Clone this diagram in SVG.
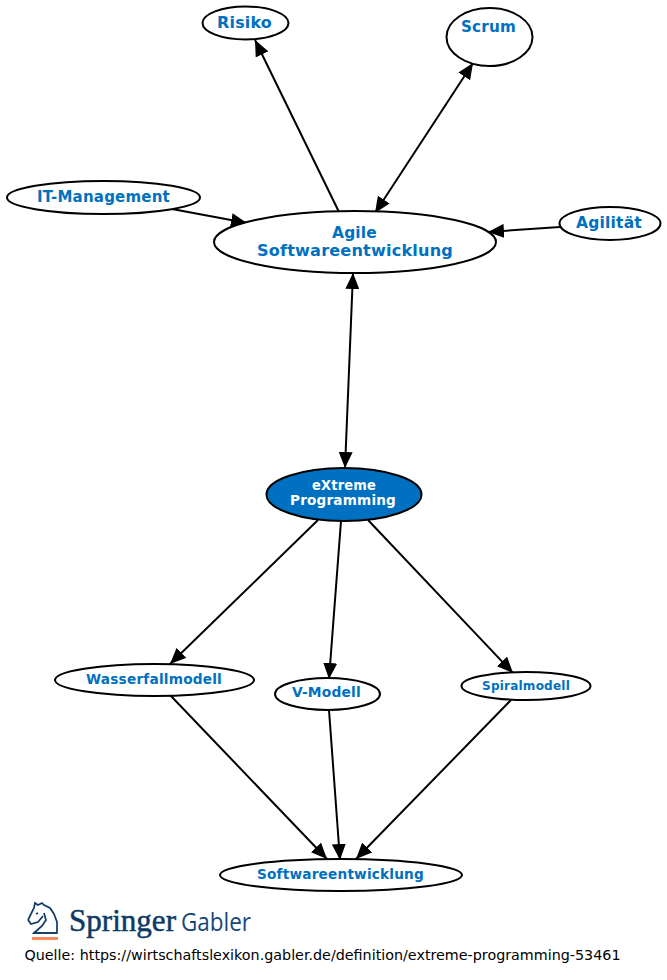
<svg xmlns="http://www.w3.org/2000/svg" width="667" height="980" viewBox="0 0 667 980">
<style>
.n{fill:#fff;stroke:#000;stroke-width:2}
.t{font-family:"DejaVu Sans",sans-serif;font-weight:bold;fill:#0070c0;text-anchor:middle;letter-spacing:.2px}
.c{fill:none;stroke:#000;stroke-width:2}
.logo{fill:none;stroke:#0d3a66;stroke-width:1.700}
</style>
<defs>
<marker id="a" markerUnits="userSpaceOnUse" markerWidth="17" markerHeight="14" refX="16" refY="7" orient="auto-start-reverse"><path d="M0 0L16 7L0 14Z" fill="#000"/></marker>
</defs>
<rect width="667" height="980" fill="#fff"/>
<g id="connectors">
<path class="c" marker-end="url(#a)" d="M339 212L255 40"/>
<path class="c" marker-start="url(#a)" marker-end="url(#a)" d="M375 213L473 63"/>
<path class="c" marker-end="url(#a)" d="M172 209L247 223"/>
<path class="c" marker-end="url(#a)" d="M560 227L488 232"/>
<path class="c" marker-start="url(#a)" marker-end="url(#a)" d="M353 273L345 468"/>
<path class="c" marker-end="url(#a)" d="M318 520L170 664"/>
<path class="c" marker-end="url(#a)" d="M341 521L329 679"/>
<path class="c" marker-end="url(#a)" d="M368 520L513 673"/>
<path class="c" marker-end="url(#a)" d="M170 695L327 859"/>
<path class="c" marker-end="url(#a)" d="M329 710L340 860"/>
<path class="c" marker-end="url(#a)" d="M511 700L356 859"/>
</g>
<g id="risiko"><ellipse class="n" cx="245.500" cy="23" rx="43" ry="16.500"/><text class="t" x="244.500" y="28" font-size="15.500" textLength="55" lengthAdjust="spacingAndGlyphs">Risiko</text></g>
<g id="scrum"><ellipse class="n" cx="489.500" cy="37" rx="43" ry="29"/><text class="t" x="488.500" y="32" font-size="15.500" textLength="55" lengthAdjust="spacingAndGlyphs">Scrum</text></g>
<g id="it-management"><ellipse class="n" cx="103.500" cy="197.500" rx="96.500" ry="16.500"/><text class="t" x="103.500" y="201.500" font-size="15" textLength="133" lengthAdjust="spacingAndGlyphs">IT-Management</text></g>
<g id="agilitaet"><ellipse class="n" cx="610" cy="223.500" rx="50.500" ry="16.500"/><text class="t" x="609" y="227.500" font-size="15.500" textLength="66" lengthAdjust="spacingAndGlyphs">Agilität</text></g>
<g id="agile"><ellipse class="n" cx="355" cy="242" rx="141" ry="31"/><text class="t" x="354.500" y="237.500" font-size="16.400" textLength="45" lengthAdjust="spacingAndGlyphs">Agile</text><text class="t" x="355" y="255.500" font-size="16.400" textLength="196" lengthAdjust="spacingAndGlyphs">Softwareentwicklung</text></g>
<g id="xp"><ellipse cx="344" cy="494.500" rx="77.500" ry="26.500" fill="#0070c0" stroke="#000" stroke-width="2"/><text class="t" x="344" y="490" font-size="13.500" style="fill:#fff" textLength="64" lengthAdjust="spacingAndGlyphs">eXtreme</text><text class="t" x="343" y="505" font-size="13.500" style="fill:#fff" textLength="106" lengthAdjust="spacingAndGlyphs">Programming</text></g>
<g id="wasserfall"><ellipse class="n" cx="154.500" cy="680" rx="99.500" ry="16"/><text class="t" x="154" y="684" font-size="14" textLength="136" lengthAdjust="spacingAndGlyphs">Wasserfallmodell</text></g>
<g id="vmodell"><ellipse class="n" cx="327.500" cy="694" rx="52.500" ry="16"/><text class="t" x="326.500" y="697" font-size="13.500" textLength="69" lengthAdjust="spacingAndGlyphs">V-Modell</text></g>
<g id="spiral"><ellipse class="n" cx="526" cy="686" rx="64.500" ry="14"/><text class="t" x="526" y="690" font-size="12" textLength="88" lengthAdjust="spacingAndGlyphs">Spiralmodell</text></g>
<g id="softwareentwicklung"><ellipse class="n" cx="341" cy="875" rx="121" ry="16"/><text class="t" x="340.500" y="879" font-size="14" textLength="167" lengthAdjust="spacingAndGlyphs">Softwareentwicklung</text></g>
<g id="logo">
<path class="logo" d="M28 920L34 908L35 903L38 905L42 903L44 905L50 908L54 914L57 922L57 933H34L42 926L46 920L44 913M28 920L31 924L38 922L43 916M38 913L36 914"/>
<path class="logo" d="M33 933H57"/>
<rect x="32" y="937" width="26" height="3" fill="#f58a5c"/>
<text x="69" y="931" font-family="Liberation Serif,serif" font-size="31" fill="#0d3a66" stroke="#0d3a66" stroke-width=".5" textLength="107" lengthAdjust="spacingAndGlyphs">Springer</text>
<text x="181" y="931" font-family="Open Sans,sans-serif" font-size="25" fill="#16497a" textLength="70" lengthAdjust="spacingAndGlyphs">Gabler</text>
</g>
<text x="24.500" y="960" font-family="DejaVu Sans,sans-serif" font-size="13.500" fill="#000" textLength="596" lengthAdjust="spacingAndGlyphs">Quelle: https://wirtschaftslexikon.gabler.de/definition/extreme-programming-53461</text>
</svg>
